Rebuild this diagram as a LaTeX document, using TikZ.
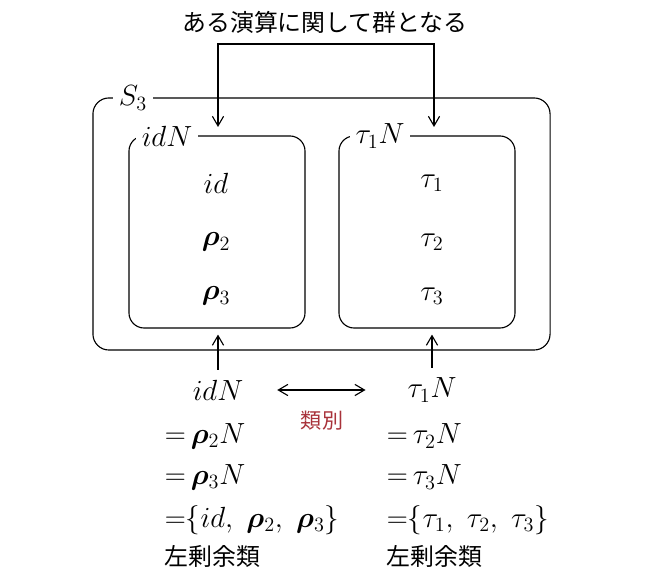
\documentclass[tikz,border=0pt]{standalone}
\usepackage{amsmath,bm}
\usepackage{fontspec}
\newfontfamily\jpfont{Noto Sans CJK JP}
\usetikzlibrary{positioning,arrows.meta,calc}
\definecolor{LabelRed}{HTML}{A8323A}

\begin{document}
\begin{tikzpicture}[x=0.025cm,y=-0.025cm, line width=0.8pt,
  >={Straight Barb[length=2.4mm,width=2.8mm]},
  every node/.style={font=\fontsize{20}{24}\selectfont,inner sep=1pt},
  jptext/.style={font=\fontsize{17}{20}\selectfont\jpfont},
  grp/.style={draw,rounded corners=0.38cm,minimum width=4.4cm,minimum height=4.8cm},
  tag/.style={fill=white,inner xsep=4pt,inner ysep=1pt}]
\useasboundingbox (0,0) rectangle (646,576);
\node[jptext] (title) at (325,22) {ある演算に関して群となる};
% the group S_3 and its two cosets
\node[draw,rounded corners=0.4cm,minimum width=11.425cm,minimum height=6.3cm] (S3) at (321.5,224) {};
\node[tag] (S3lbl) at (133,98) {$S_3$};
\node[grp] (lbox) at (217,232) {};
\node[tag] (lboxlbl) at (167,136) {$idN$};
\node[grp] (rbox) at (427,232) {};
\node[tag] (rboxlbl) at (380,136) {$\tau_1N$};
\node (id) at (216,183) {$id$};
\node (rho2) at (216,242) {$\bm{\rho}_2$};
\node (rho3) at (216,296) {$\bm{\rho}_3$};
\node (tau1) at (432,183) {$\tau_1$};
\node (tau2) at (432,242) {$\tau_2$};
\node (tau3) at (432,296) {$\tau_3$};
% cosets written out
\node (cL) at (218,390) {$idN$};
\node (cR) at (432,390) {$\tau_1N$};
\node[anchor=west] (l1) at (163,436) {${=}\,\bm{\rho}_2N$};
\node[anchor=west] (l2) at (163,477) {${=}\,\bm{\rho}_3N$};
\node[anchor=west] (l3) at (163,520) {${=}\{id,\ \bm{\rho}_2,\ \bm{\rho}_3\}$};
\node[jptext,anchor=west] (l4) at (163,556) {左剰余類};
\node[anchor=west] (r1) at (385,436) {${=}\,\tau_2N$};
\node[anchor=west] (r2) at (385,477) {${=}\,\tau_3N$};
\node[anchor=west] (r3) at (385,520) {${=}\{\tau_1,\ \tau_2,\ \tau_3\}$};
\node[jptext,anchor=west] (r4) at (385,556) {左剰余類};
\node[jptext,font=\fontsize{15}{18}\selectfont\jpfont,text=LabelRed] (split) at (322,421) {類別};
% arrows
\coordinate (bar) at (326,44);
\coordinate (inL) at (218,127);
\coordinate (inR) at (434,127);
\draw[<->] (inL) |- (bar) -| (inR);
\draw[->] ($(cL.north)+(0,-8)$) -- ($(cL.north |- lbox.south)+(0,6)$);
\draw[->] ($(cR.north)+(0,-8)$) -- ($(cR.north |- rbox.south)+(0,6)$);
\draw[<->,shorten <=0.8cm,shorten >=1cm] (cL) -- (cR);
\end{tikzpicture}
\end{document}
